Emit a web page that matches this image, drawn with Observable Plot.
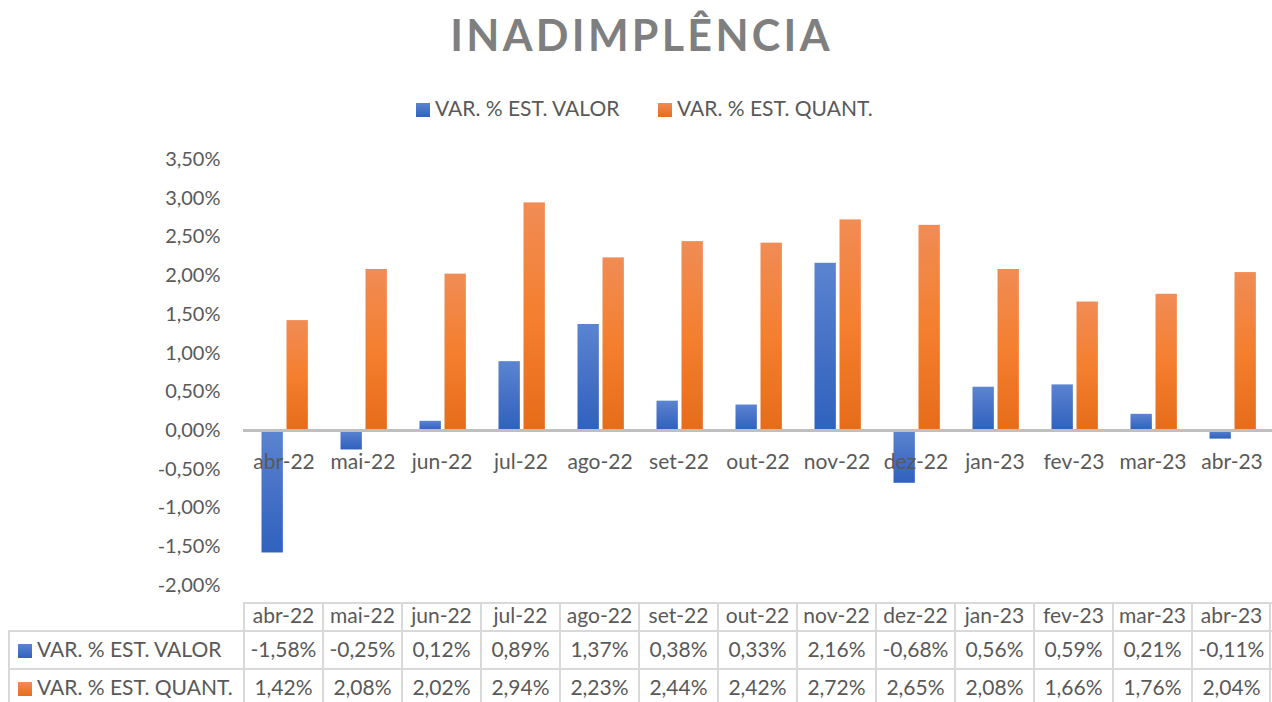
<!DOCTYPE html>
<html>
<head>
<meta charset="utf-8">
<script src="https://cdn.jsdelivr.net/npm/d3@7"></script>
<script src="https://cdn.jsdelivr.net/npm/@observablehq/plot@0.6"></script>
<style>
  html, body { margin: 0; padding: 0; background: #fff; }
  body { width: 1272px; height: 702px; position: relative; overflow: hidden; font-family: Lato, "Open Sans", sans-serif; color: #595959; }
  .abs { position: absolute; }
  #title { left: 0; width: 1272px; top: 14px; text-align: center; font-size: 43px; line-height: 42px; font-weight: 700; letter-spacing: 3.3px; color: #7f7f7f; padding-left: 11px; box-sizing: border-box; }
  .leg { font-size: 21px; line-height: 21px; white-space: nowrap; }
  .sq { display: inline-block; width: 14px; height: 14px; }
  .sqBlue { background: linear-gradient(#5b84d0, #2f62be); }
  .sqOrange { background: linear-gradient(#f08c55, #e86c1a); }
  .cell { font-size: 21px; text-align: center; white-space: nowrap; }
  .hl, .vl { background: #d9d9d9; }
</style>
</head>
<body>
<div id="title" class="abs">INADIMPLÊNCIA</div>
<div id="legend"></div>
<div id="chart" class="abs" style="left:0;top:140px;"></div>
<div id="table"></div>
<script>
const months = ["abr-22","mai-22","jun-22","jul-22","ago-22","set-22","out-22","nov-22","dez-22","jan-23","fev-23","mar-23","abr-23"];
const valor = [-1.58, -0.25, 0.12, 0.89, 1.37, 0.38, 0.33, 2.16, -0.68, 0.56, 0.59, 0.21, -0.11];
const quant = [1.42, 2.08, 2.02, 2.94, 2.23, 2.44, 2.42, 2.72, 2.65, 2.08, 1.66, 1.76, 2.04];
const seriesNames = ["VAR. % EST. VALOR", "VAR. % EST. QUANT."];
const yTicks = [-2, -1.5, -1, -0.5, 0, 0.5, 1, 1.5, 2, 2.5, 3, 3.5];

const fmt = d => d.toFixed(2).replace(".", ",") + "%";

const rowsValor = months.map((m, i) => ({month: m, value: valor[i]}));
const rowsQuant = months.map((m, i) => ({month: m, value: quant[i]}));

const chart = Plot.plot({
  width: 1272,
  height: 460,
  marginLeft: 243,
  marginRight: 0,
  marginTop: 19,
  marginBottom: 15,
  style: {fontFamily: "Lato, 'Open Sans', sans-serif", fontSize: "20px", color: "#595959", background: "transparent", overflow: "visible"},
  x: {domain: months, paddingInner: 0, paddingOuter: 0, axis: null},
  y: {domain: [-2, 3.5], ticks: yTicks, tickFormat: fmt, tickSize: 0, tickPadding: 23, label: null, line: false},
  marks: [
    Plot.barY(rowsValor, {x: "month", y: "value", fill: "url(#gradBlue)", insetLeft: 17.5, insetRight: 40.15, ariaLabel: "bars-valor"}),
    Plot.barY(rowsQuant, {x: "month", y: "value", fill: "url(#gradOrange)", insetLeft: 42.5, insetRight: 15.15, ariaLabel: "bars-quant"}),
    Plot.ruleY([0], {stroke: "#bfbfbf", strokeWidth: 3}),
    Plot.text(months, {x: d => d, y: () => 0, dy: 32, fontSize: 21, fill: "#595959", text: d => d})
  ]
});

const svg = d3.select(chart);
const defs = svg.insert("defs", ":first-child");
defs.html(`
  <linearGradient id="gradBlue" x1="0" y1="0" x2="0" y2="1">
    <stop offset="0" stop-color="#5b84d0"/>
    <stop offset="0.5" stop-color="#4671c6"/>
    <stop offset="1" stop-color="#2f62be"/>
  </linearGradient>
  <linearGradient id="gradOrange" x1="0" y1="0" x2="0" y2="1">
    <stop offset="0" stop-color="#f08c55"/>
    <stop offset="0.5" stop-color="#f47f2f"/>
    <stop offset="1" stop-color="#e66c19"/>
  </linearGradient>
  <filter id="shadow" x="-30%" y="-10%" width="160%" height="130%">
    <feDropShadow dx="0" dy="3" stdDeviation="2.2" flood-color="#000" flood-opacity="0.38"/>
  </filter>
`);
svg.selectAll('g[aria-label="bars-valor"] rect, g[aria-label="bars-quant"] rect').attr("filter", "url(#shadow)");
document.getElementById("chart").appendChild(chart);

// Legend
const legend = document.getElementById("legend");
const legItems = [
  {name: seriesNames[0], cls: "sqBlue", left: 416},
  {name: seriesNames[1], cls: "sqOrange", left: 658}
];
for (const it of legItems) {
  const d = document.createElement("div");
  d.className = "abs leg";
  d.style.left = it.left + "px";
  d.style.top = "97px";
  d.innerHTML = `<span class="sq ${it.cls}" style="vertical-align:-1px;margin-right:5px"></span>${it.name}`;
  legend.appendChild(d);
}

// Data table, positioned with the chart's x scale
const xs = chart.scale("x");
const bw = xs.bandwidth;
const table = document.getElementById("table");
function addDiv(cls, l, t, w, h, html) {
  const d = document.createElement("div");
  d.className = "abs " + cls;
  d.style.left = l + "px"; d.style.top = t + "px";
  d.style.width = w + "px"; d.style.height = h + "px";
  if (html != null) { d.innerHTML = html; d.style.lineHeight = h + "px"; }
  table.appendChild(d);
  return d;
}
const x0 = xs.apply(months[0]);
const xEnd = xs.apply(months[months.length - 1]) + bw;
const rowTops = [603, 631, 669, 707];
const leftEdge = 9;
// horizontal lines
addDiv("hl", x0 - 1, rowTops[0] - 1, xEnd - x0 + 2, 2);
addDiv("hl", leftEdge - 1, rowTops[1] - 1, xEnd - leftEdge + 2, 2);
addDiv("hl", leftEdge - 1, rowTops[2] - 1, xEnd - leftEdge + 2, 2);
// vertical lines
addDiv("vl", leftEdge - 1, rowTops[1] - 1, 2, 702 - rowTops[1] + 1);
for (const m of months) addDiv("vl", xs.apply(m) - 1, rowTops[0] - 1, 2, 702 - rowTops[0] + 1);
addDiv("vl", xEnd - 2, rowTops[0] - 1, 2, 702 - rowTops[0] + 1);
// header
for (const m of months) addDiv("cell", xs.apply(m), rowTops[0] - 2, bw, rowTops[1] - rowTops[0], m);
// series rows
const seriesVals = [valor, quant];
const seriesCls = ["sqBlue", "sqOrange"];
for (let r = 0; r < 2; r++) {
  const top = rowTops[r + 1], h = rowTops[r + 2] - rowTops[r + 1];
  const c = addDiv("cell", 18, top - 1, x0 - 18, h, `<span class="sq ${seriesCls[r]}" style="vertical-align:-1px;margin-right:5px"></span>${seriesNames[r]}`);
  c.style.textAlign = "left";
  months.forEach((m, i) => addDiv("cell", xs.apply(m), top - 1, bw, h, fmt(seriesVals[r][i])));
}
</script>
</body>
</html>
